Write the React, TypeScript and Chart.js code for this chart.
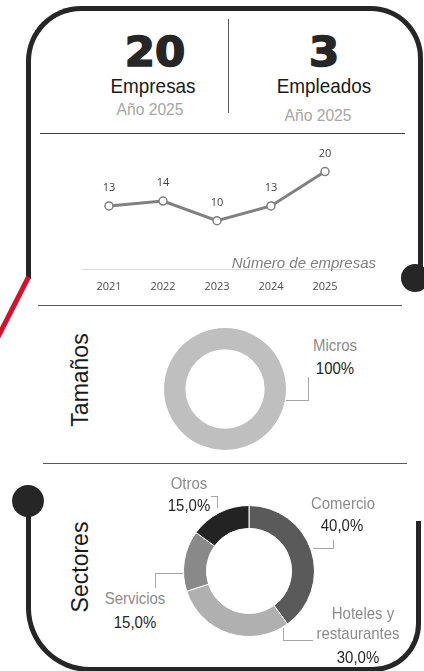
import React, { useEffect, useRef } from "react";
import { Chart, registerables } from "chart.js";

Chart.register(...registerables);

// ---- data ----
const years = ["2021", "2022", "2023", "2024", "2025"];
const empresasPorAno = [13, 14, 10, 13, 20];
const totalEmpresas = 20;
const totalEmpleados = 3;
const anioTexto = "Año 2025";
const lineTitle = "Número de empresas";
const tamanoLabels = ["Micros"];
const tamanoValues = [100];
const tamanoColors = ["#bfbfbf"];
const sectorLabels = ["Comercio", "Hoteles y restaurantes", "Servicios", "Otros"];
const sectorValues = [40, 30, 15, 15];
const sectorColors = ["#5a5a5a", "#b0b0b0", "#898989", "#232323"];

const SANS = '"Liberation Sans", Arial, sans-serif';

const pct1 = (v: number) => v.toFixed(1).replace(".", ",") + "%";

function LineChart() {
  const ref = useRef<HTMLCanvasElement>(null);
  useEffect(() => {
    const labelPlugin = {
      id: "pointLabels",
      afterDatasetsDraw(chart: any) {
        const ctx = chart.ctx;
        const meta = chart.getDatasetMeta(0);
        ctx.save();
        ctx.font = '11px "Open Sans"';
        ctx.fillStyle = "#404040";
        ctx.textAlign = "center";
        ctx.textBaseline = "middle";
        meta.data.forEach((p: any, i: number) => {
          ctx.fillText(String(chart.data.datasets[0].data[i]), p.x, p.y - 18);
        });
        ctx.restore();
      },
    };
    const chart = new Chart(ref.current as HTMLCanvasElement, {
      type: "line",
      data: {
        labels: years,
        datasets: [
          {
            data: empresasPorAno,
            borderColor: "#808080",
            borderWidth: 3,
            pointRadius: 4,
            pointBackgroundColor: "#ffffff",
            pointBorderColor: "#808080",
            pointBorderWidth: 1.5,
            tension: 0,
          },
        ],
      },
      options: {
        animation: false,
        responsive: false,
        maintainAspectRatio: false,
        layout: { padding: { left: 22, right: 28, top: 7, bottom: 2 } },
        plugins: { legend: { display: false }, tooltip: { enabled: false } },
        scales: {
          x: {
            offset: true,
            grid: { display: false, drawTicks: false },
            border: { display: true, color: "#d9d9d9", width: 1 },
            ticks: { padding: 10, color: "#4d4d4d", font: { family: "Open Sans", size: 11 } },
          },
          y: { display: false, min: 0, max: 25 },
        },
      },
      plugins: [labelPlugin],
    } as any);
    return () => chart.destroy();
  }, []);
  return (
    <canvas
      ref={ref}
      width={320}
      height={165}
      style={{ position: "absolute", left: 60, top: 140, width: 320, height: 165 }}
    />
  );
}

function Donut(props: {
  labels: string[];
  values: number[];
  colors: string[];
  cx: number;
  cy: number;
  r: number;
  border: number;
}) {
  const ref = useRef<HTMLCanvasElement>(null);
  const size = 2 * props.r + 8;
  useEffect(() => {
    const chart = new Chart(ref.current as HTMLCanvasElement, {
      type: "doughnut",
      data: {
        labels: props.labels,
        datasets: [
          {
            data: props.values,
            backgroundColor: props.colors,
            borderColor: "#ffffff",
            borderWidth: props.border,
          },
        ],
      },
      options: {
        animation: false,
        responsive: false,
        maintainAspectRatio: false,
        cutout: "65%",
        layout: { padding: 4 },
        plugins: { legend: { display: false }, tooltip: { enabled: false } },
      },
    } as any);
    return () => chart.destroy();
  }, []);
  return (
    <canvas
      ref={ref}
      width={size}
      height={size}
      style={{
        position: "absolute",
        left: props.cx - size / 2,
        top: props.cy - size / 2,
        width: size,
        height: size,
      }}
    />
  );
}

function T(props: {
  x: number;
  y: number;
  size: number;
  color: string;
  sx?: number;
  family?: string;
  rotate?: boolean;
  style?: React.CSSProperties;
  children: React.ReactNode;
}) {
  const sx = props.sx === undefined ? 0.88 : props.sx;
  return (
    <div
      style={{
        position: "absolute",
        left: props.x,
        top: props.y,
        transform: `translate(-50%, -50%)${props.rotate ? " rotate(-90deg)" : ""} scaleX(${sx})`,
        fontSize: props.size,
        lineHeight: 1,
        color: props.color,
        fontFamily: props.family || SANS,
        whiteSpace: "nowrap",
        ...props.style,
      }}
    >
      {props.children}
    </div>
  );
}

function HL(p: { x1: number; x2: number; y: number; c: string; w?: number }) {
  return (
    <div
      style={{
        position: "absolute",
        left: p.x1,
        top: p.y,
        width: p.x2 - p.x1,
        height: p.w || 1,
        background: p.c,
      }}
    />
  );
}
function VL(p: { x: number; y1: number; y2: number; c: string; w?: number }) {
  return (
    <div
      style={{
        position: "absolute",
        left: p.x,
        top: p.y1,
        width: p.w || 1,
        height: p.y2 - p.y1,
        background: p.c,
      }}
    />
  );
}

export default function App() {
  const DARK = "#262626";
  const LABEL = "#8c8c8c";
  const LEAD = "#a6a6a6";
  const big: React.CSSProperties = { fontWeight: 700, WebkitTextStroke: "1.6px #262626" };
  return (
    <div
      style={{
        position: "absolute",
        left: 0,
        top: 0,
        width: 424,
        height: 671,
        overflow: "hidden",
        background: "#ffffff",
        fontFamily: SANS,
      }}
    >
      {/* top frame */}
      <div
        style={{
          position: "absolute",
          left: 26,
          top: 6,
          width: 397,
          height: 273,
          boxSizing: "border-box",
          border: "5px solid " + DARK,
          borderBottom: "none",
          borderRadius: "55px 52px 0 0",
        }}
      />
      <div
        style={{
          position: "absolute",
          left: 401,
          top: 264,
          width: 28,
          height: 28,
          borderRadius: "50%",
          background: DARK,
        }}
      />
      {/* red connector */}
      <div
        style={{
          position: "absolute",
          left: 26,
          top: 277,
          width: 5,
          height: 75,
          background: "#d5102a",
          transformOrigin: "50% 0",
          transform: "rotate(27deg)",
        }}
      />
      {/* bottom frame */}
      <div
        style={{
          position: "absolute",
          left: 26,
          top: 500,
          width: 395,
          height: 172,
          boxSizing: "border-box",
          border: "5px solid " + DARK,
          borderTop: "none",
          borderRadius: "0 0 48px 64px",
        }}
      />
      <div style={{ position: "absolute", left: 410, top: 495, width: 14, height: 26, background: "#ffffff" }} />
      <div
        style={{
          position: "absolute",
          left: 12,
          top: 485,
          width: 32,
          height: 32,
          borderRadius: "50%",
          background: DARK,
        }}
      />

      {/* separators */}
      <VL x={228} y1={19} y2={113} c="#595959" />
      <HL x1={40} x2={405} y={133} c="#404040" />
      <HL x1={38} x2={402} y={305} c="#595959" />
      <HL x1={43} x2={407} y={463} c="#595959" />

      {/* header */}
      <T x={155} y={52} size={41} sx={1.06} color={DARK} family='"DejaVu Sans", sans-serif' style={big}>
        {totalEmpresas}
      </T>
      <T x={324} y={52} size={41} sx={1.06} color={DARK} family='"DejaVu Sans", sans-serif' style={big}>
        {totalEmpleados}
      </T>
      <T x={153} y={85} size={21} sx={0.9} color="#1a1a1a">Empresas</T>
      <T x={324} y={85} size={21} sx={0.9} color="#1a1a1a">Empleados</T>
      <T x={150} y={109} size={17} sx={0.92} color="#a6a6a6">{anioTexto}</T>
      <T x={318} y={115} size={17} sx={0.92} color="#a6a6a6">{anioTexto}</T>

      {/* line chart */}
      <LineChart />
      <div
        style={{
          position: "absolute",
          right: 424 - 376,
          top: 262,
          transform: "translateY(-50%)",
          fontSize: 15,
          lineHeight: 1,
          fontStyle: "italic",
          color: "#7f7f7f",
          fontFamily: SANS,
          whiteSpace: "nowrap",
        }}
      >
        {lineTitle}
      </div>

      {/* Tamaños */}
      <T x={80} y={380} size={23} sx={1} color="#1a1a1a" rotate>Tamaños</T>
      <Donut labels={tamanoLabels} values={tamanoValues} colors={tamanoColors} cx={225} cy={389} r={61} border={0} />
      <T x={335} y={345} size={17} color={LABEL}>{tamanoLabels[0]}</T>
      <T x={335} y={368} size={17} color={DARK}>{tamanoValues[0] + "%"}</T>
      <HL x1={286} x2={309} y={400} c={LEAD} />
      <VL x={308} y1={377} y2={401} c={LEAD} />

      {/* Sectores */}
      <T x={80} y={567} size={23} sx={1} color="#1a1a1a" rotate>Sectores</T>
      <Donut labels={sectorLabels} values={sectorValues} colors={sectorColors} cx={249} cy={571} r={66} border={1} />

      <T x={343} y={503} size={17} color={LABEL}>{sectorLabels[0]}</T>
      <T x={342} y={525} size={17} color={DARK}>{pct1(sectorValues[0])}</T>
      <HL x1={313} x2={334} y={548} c={LEAD} />
      <VL x={333} y1={540} y2={549} c={LEAD} />

      <T x={363} y={613} size={17} color={LABEL}>{sectorLabels[1].split(" restaurantes")[0]}</T>
      <T x={358} y={633} size={17} color={LABEL}>restaurantes</T>
      <T x={358} y={657} size={17} color={DARK}>{pct1(sectorValues[1])}</T>
      <VL x={283} y1={628} y2={641} c={LEAD} />
      <HL x1={283} x2={313} y={640} c={LEAD} />

      <T x={135} y={598} size={17} color={LABEL}>{sectorLabels[2]}</T>
      <T x={135} y={622} size={17} color={DARK}>{pct1(sectorValues[2])}</T>
      <HL x1={155} x2={183} y={573} c={LEAD} />
      <VL x={155} y1={573} y2={588} c={LEAD} />

      <T x={189} y={483} size={17} color={LABEL}>{sectorLabels[3]}</T>
      <T x={189} y={505} size={17} color={DARK}>{pct1(sectorValues[3])}</T>
      <HL x1={211} x2={218} y={496} c={LEAD} />
      <VL x={217} y1={496} y2={508} c={LEAD} />
    </div>
  );
}
